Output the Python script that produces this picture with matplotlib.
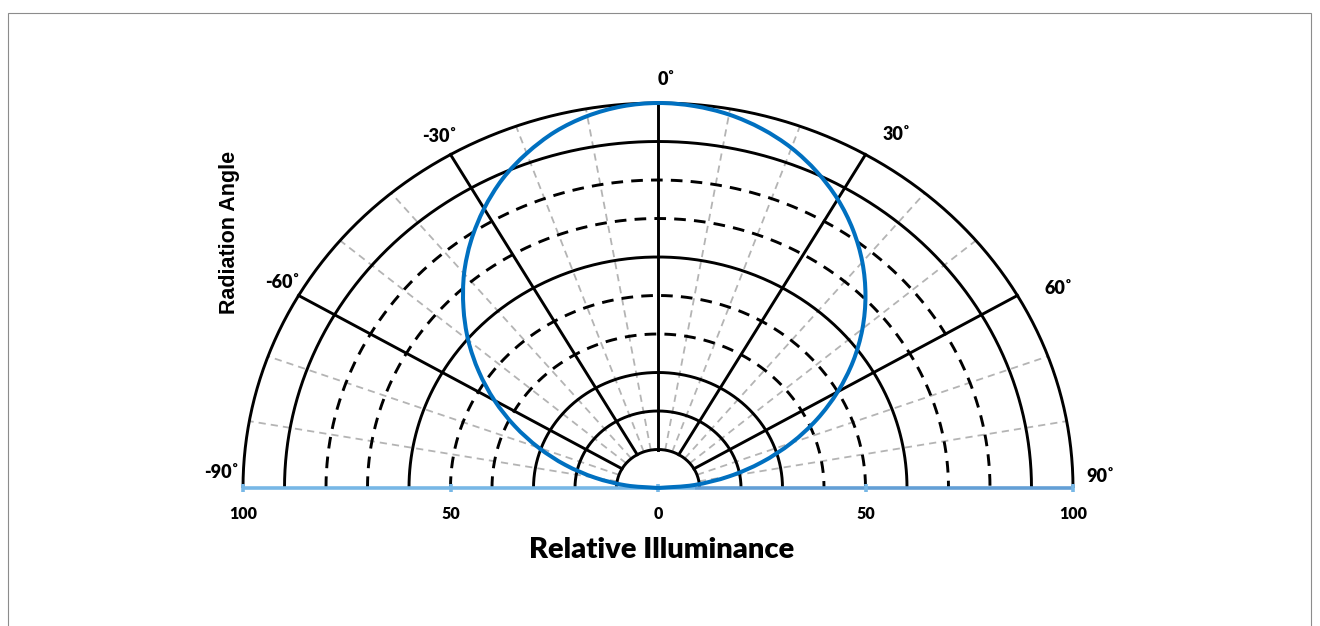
import numpy as np
import matplotlib
matplotlib.use("Agg")
import matplotlib.pyplot as plt
from matplotlib.patches import Rectangle, PathPatch
from matplotlib.path import Path

# ---- data ----
angles_deg = [-90, -85, -80, -75, -70, -65, -60, -55, -50, -45, -40, -35, -30, -25, -20, -15, -10, -5,
              0, 5, 10, 15, 20, 25, 30, 35, 40, 45, 50, 55, 60, 65, 70, 75, 80, 85, 90]
illuminance = [0, 7.7, 15.4, 23.1, 30.6, 38.1, 45.5, 52.7, 59.7, 66.3, 72.7, 78.5, 83.8, 88.6,
               92.5, 95.8, 98.1, 99.5, 100,
               99.6, 98.5, 96.6, 94.0, 90.6, 86.6, 81.9, 76.6, 70.7, 64.3, 57.4, 50.0, 42.3,
               34.2, 25.9, 17.4, 8.7, 0]
solid_rings = [10, 20, 30, 60, 90, 100]
dashed_rings = [40, 50, 70, 80]
major_spokes = [-60, -30, 0, 30, 60]
minor_spokes = [-80, -70, -50, -40, -20, -10, 10, 20, 40, 50, 70, 80]
angle_labels = ["-90˚", "-60˚", "-30˚", "0˚", "30˚", "60˚", "90˚"]
tick_values = [-100, -50, 0, 50, 100]
tick_labels = ["100", "50", "0", "50", "100"]

FONT = ["Lato", "DejaVu Sans"]

fig = plt.figure(figsize=(13.2, 6.26), dpi=100)
fig.patch.set_facecolor("white")
fig.add_artist(Rectangle((8 / 1320, -0.01), (1311 - 8) / 1320, (626 - 13) / 626 + 0.01,
                         transform=fig.transFigure, fill=False, edgecolor="#8c8c8c", lw=0.8))

ax = fig.add_axes([243 / 1320, (626 - 488) / 626, 830 / 1320, 385 / 626])
ax.set_xlim(-100, 100)
ax.set_ylim(0, 100)
ax.axis("off")

def polar_xy(theta_deg, r):
    t = np.radians(np.asarray(theta_deg, dtype=float))
    return np.asarray(r) * np.sin(t), np.asarray(r) * np.cos(t)

arc = np.linspace(-90, 90, 361)

# minor gray spokes
for a in minor_spokes:
    x, y = polar_xy([a, a], [10, 100])
    ax.plot(x, y, color="#b4b4b4", lw=1.3, dashes=(4.0, 2.8), clip_on=False, zorder=1)

# dashed rings
for r in dashed_rings:
    x, y = polar_xy(arc, r)
    ax.plot(x, y, color="black", lw=2.1, dashes=(4, 2.8), clip_on=False, zorder=2)

# solid rings
for r in solid_rings:
    x, y = polar_xy(arc, r)
    ax.plot(x, y, color="black", lw=2.1, clip_on=False, zorder=2, solid_capstyle="butt")

# major spokes
for a in major_spokes:
    x, y = polar_xy([a, a], [10, 100])
    ax.plot(x, y, color="black", lw=2.1, clip_on=False, zorder=2)

# baseline
ax.plot([-100, 9], [0, 0], color="#77b7e6", lw=2.6, clip_on=False, zorder=3, solid_capstyle="butt")
ax.plot([9, 100], [0, 0], color="#639fd6", lw=2.6, clip_on=False, zorder=3, solid_capstyle="butt")
for t in tick_values:
    ax.plot([t, t], [-1.1, 1.1], color="#77b7e6", lw=2.6, clip_on=False, zorder=3, solid_capstyle="butt")

# smooth curve (Catmull-Rom drawn as cubic Bezier through the data points)
px, py = polar_xy(angles_deg, illuminance)
pts = np.column_stack([px, py])
ext = np.vstack([pts[0] - (pts[1] - pts[0]), pts, pts[-1] + (pts[-1] - pts[-2])])
verts = [tuple(pts[0])]
codes = [Path.MOVETO]
for i in range(1, len(ext) - 2):
    p0, p1, p2, p3 = ext[i - 1], ext[i], ext[i + 1], ext[i + 2]
    c1 = p1 + (p2 - p0) / 6.0
    c2 = p2 - (p3 - p1) / 6.0
    verts += [tuple(c1), tuple(c2), tuple(p2)]
    codes += [Path.CURVE4] * 3
ax.add_patch(PathPatch(Path(verts, codes), facecolor="none", edgecolor="#0070c0", lw=2.9,
                       clip_on=False, zorder=4, joinstyle="round"))

# tick labels
for t, lab in zip(tick_values, tick_labels):
    ax.text(t, -6.8, lab, ha="center", va="center", fontsize=11.5, fontweight="heavy",
            family=FONT, color="black")

# angle labels
label_pos = [(-105.2, 4), (-90.6, 53.5), (-52.6, 91.3), (2.0, 106.2),
             (57.6, 91.7), (96.4, 51.8), (106.5, 3.0)]
for (lx, ly), lab in zip(label_pos, angle_labels):
    ax.text(lx, ly, lab, ha="center", va="center", fontsize=13, fontweight="heavy",
            family=FONT, color="black")

# axis titles
fig.text(662 / 1320, 1 - 550 / 626, "Relative Illuminance", ha="center", va="center",
         fontsize=21, fontweight="heavy", family=FONT)
fig.text(229 / 1320, 1 - 232 / 626, "Radiation Angle", ha="center", va="center", rotation=90,
         fontsize=15.5, fontweight="bold", family=["Liberation Sans", "DejaVu Sans"])

fig.savefig("out.png", dpi=100, facecolor="white")
